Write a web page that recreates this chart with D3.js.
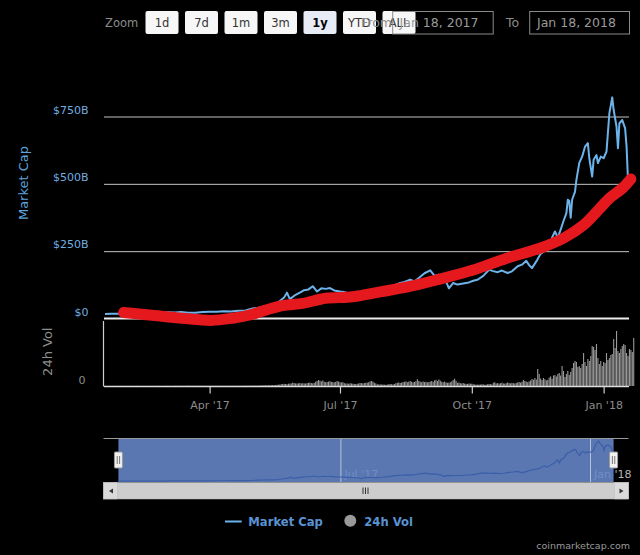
<!DOCTYPE html>
<html><head><meta charset="utf-8">
<script src="https://cdn.jsdelivr.net/npm/d3@7"></script>
<style>body{margin:0;background:#000;}svg{display:block;}text{font-family:"DejaVu Sans",sans-serif;}</style>
</head><body>
<svg id="chart" width="640" height="555"></svg>
<script>
// ---------------- DATA ----------------
const mcDates = ["2017-01-18","2017-01-22","2017-01-27","2017-02-01","2017-02-06","2017-02-11","2017-02-16","2017-02-21","2017-02-26","2017-03-03","2017-03-08","2017-03-12","2017-03-17","2017-03-22","2017-03-27","2017-04-01","2017-04-06","2017-04-11","2017-04-16","2017-04-21","2017-04-26","2017-05-01","2017-05-05","2017-05-09","2017-05-13","2017-05-16","2017-05-20","2017-05-23","2017-05-25","2017-05-27","2017-05-31","2017-06-03","2017-06-06","2017-06-09","2017-06-12","2017-06-15","2017-06-18","2017-06-21","2017-06-24","2017-06-27","2017-07-01","2017-07-04","2017-07-07","2017-07-10","2017-07-13","2017-07-16","2017-07-20","2017-07-23","2017-07-27","2017-08-01","2017-08-05","2017-08-08","2017-08-12","2017-08-15","2017-08-19","2017-08-22","2017-08-25","2017-08-29","2017-09-02","2017-09-05","2017-09-08","2017-09-11","2017-09-13","2017-09-15","2017-09-18","2017-09-21","2017-09-25","2017-09-29","2017-10-02","2017-10-05","2017-10-09","2017-10-13","2017-10-16","2017-10-19","2017-10-22","2017-10-26","2017-10-29","2017-11-02","2017-11-05","2017-11-08","2017-11-10","2017-11-12","2017-11-15","2017-11-18","2017-11-21","2017-11-24","2017-11-26","2017-11-28","2017-11-30","2017-12-02","2017-12-04","2017-12-06","2017-12-07","2017-12-08","2017-12-09","2017-12-10","2017-12-12","2017-12-13","2017-12-15","2017-12-17","2017-12-19","2017-12-21","2017-12-22","2017-12-24","2017-12-25","2017-12-27","2017-12-28","2017-12-30","2018-01-01","2018-01-03","2018-01-05","2018-01-07","2018-01-08","2018-01-10","2018-01-11","2018-01-12","2018-01-14","2018-01-16","2018-01-17","2018-01-18"];
const mcValues = [17,17.5,17.8,18,18.6,18.2,18.9,19.5,20.8,23,22,24.5,21,21.5,24,25,25.5,26.5,26,28.5,30,37,40,45,44,50,65,78,96,72,88,96,105,108,120,100,112,110,113,104,100,98,94,90,85,70,92,90,88,95,108,124,132,136,144,138,150,168,179,158,163,146,138,112,132,126,130,134,140,144,158,181,176,172,178,169,175,194,200,214,198,187,212,240,252,266,300,323,300,330,362,391,441,436,374,441,470,515,578,601,638,651,595,527,589,607,577,601,595,620,762,821,774,712,632,725,737,706,638,515];

// hand-drawn red trend annotation
const trendDates = ["2017-01-31","2017-02-18","2017-03-13","2017-04-02","2017-04-17","2017-04-29","2017-05-10","2017-05-22","2017-06-05","2017-06-21","2017-07-10","2017-07-29","2017-08-18","2017-09-06","2017-10-02","2017-10-25","2017-11-17","2017-12-04","2017-12-18","2017-12-28","2018-01-05","2018-01-14","2018-01-20"];
const trendValues = [22,13,1,-7,1,13,31,48,56,75,81,99,118,143,180,223,260,298,347,401,446,483,518];

// daily 24h volume (billions), 2017-01-18 .. 2018-01-18
const volStart = "2017-01-18";
const volValues = [
0.1,0.1,0.1,0.1,0.1,0.1,0.1,0.1,0.1,0.1,0.1,0.1,0.1,0.1,
0.1,0.1,0.1,0.1,0.1,0.1,0.1,0.1,0.2,0.1,0.1,0.1,0.1,0.1,0.1,0.1,0.1,0.1,0.1,0.1,0.1,0.1,0.2,0.2,0.1,0.1,0.1,0.1,
0.1,0.2,0.2,0.1,0.1,0.1,0.2,0.2,0.2,0.2,0.2,0.2,0.2,0.2,0.2,0.2,0.3,0.2,0.2,0.2,0.2,0.2,0.2,0.2,0.2,0.2,0.2,0.2,0.2,0.2,0.2,0.2,0.2,0.2,0.2,
0.2,0.2,0.2,0.2,0.2,0.2,0.2,0.2,0.2,0.2,0.2,0.2,0.2,0.2,0.2,0.2,0.2,0.2,0.2,0.2,0.3,0.3,0.3,0.3,0.3,0.3,0.4,0.4,0.3,0.4,
0.4,0.5,0.5,0.6,0.7,0.6,0.7,0.8,0.7,0.8,0.9,0.8,1.0,1.2,1.3,1.5,1.8,2.0,2.2,2.0,1.8,2.3,2.4,2.6,3.4,3.0,2.6,2.5,2.7,3.0,2.6,
2.8,2.6,2.5,2.9,3.2,3.4,3.0,2.7,3.1,4.2,5.0,6.0,5.4,4.6,5.6,4.3,3.8,4.0,4.4,4.8,4.1,3.9,3.6,4.2,5.0,4.4,3.8,3.5,3.9,3.0,
2.4,2.6,2.2,2.8,2.5,2.3,2.1,2.0,2.2,2.6,3.0,2.9,2.6,3.0,3.2,3.4,3.8,4.6,5.0,4.4,3.2,2.6,1.8,1.5,1.7,1.4,1.6,1.3,1.2,1.4,1.8,
2.0,1.7,1.6,1.9,2.8,3.2,3.6,3.0,3.4,3.9,4.2,4.6,3.8,4.4,5.0,4.2,3.6,4.0,4.8,6.8,5.2,4.4,3.8,4.6,3.9,4.2,3.6,4.0,4.4,5.0,4.2,
5.6,6.2,5.0,6.6,5.4,4.2,3.8,4.4,3.6,3.2,3.4,3.8,4.6,6.0,7.4,5.2,3.2,3.6,2.8,2.6,3.0,2.4,2.2,2.0,2.6,2.2,2.4,1.8,1.6,1.4,
1.3,1.5,1.4,1.8,1.6,1.2,1.4,1.7,2.0,1.8,1.6,3.2,3.8,2.6,2.9,2.4,2.8,3.4,2.6,2.4,2.8,3.6,3.0,2.6,3.2,2.8,2.5,3.0,3.6,4.0,3.4,
4.2,6.0,5.0,4.4,3.8,4.6,5.5,7.0,6.2,8.0,6.4,17,12,7.5,6.0,8.0,6.8,5.6,6.2,8.4,9.6,7.2,10.5,11,9.5,12,13,10.5,20,15,
9,12,15,11,14,18,23,25,24,19,20,18,22,33,24,20,27,25,30,40,39,36,42,28,22,25,20,24,23,33,26,
28,31,32,47,38,55,35,33,37,40,42,41,33,30,37,36,34,48];

const yTicks = [0, 250, 500, 750];
const yTickLabels = ["$0", "$250B", "$500B", "$750B"];
const xTickDates = ["2017-04-01", "2017-07-01", "2017-10-01", "2018-01-01"];
const xTickLabels = ["Apr '17", "Jul '17", "Oct '17", "Jan '18"];
const navTickDates = ["2017-07-01", "2018-01-01"];
const navTickLabels = ["Jul '17", "Jan '18"];
const zoomButtons = ["1d", "7d", "1m", "3m", "1y", "YTD", "ALL"];
const selectedButton = "1y";
const fromDate = "Jan 18, 2017", toDate = "Jan 18, 2018";
const seriesNames = ["Market Cap", "24h Vol"];

// ---------------- SETUP ----------------
const parse = d3.timeParse("%Y-%m-%d");
const mc = mcDates.map((d, i) => ({date: parse(d), value: mcValues[i]}));
const trend = trendDates.map((d, i) => ({date: parse(d), value: trendValues[i]}));
const v0 = parse(volStart);
const vol = volValues.map((v, i) => ({date: d3.timeDay.offset(v0, i), value: v}));

const svg = d3.select("#chart");
svg.append("rect").attr("width", 640).attr("height", 555).attr("fill", "#000");

const x = d3.scaleTime().domain([parse("2017-01-18"), parse("2018-01-18")]).range([105, 628]);
const y = d3.scaleLinear().domain([0, 750]).range([318.5, 116.5]);
const yv = d3.scaleLinear().domain([0, 64]).range([386, 322]);
const xn = d3.scaleTime().domain([parse("2017-01-07"), parse("2018-01-29")]).range([103.5, 628.5]);
const yn = d3.scaleLinear().domain([0, 840]).range([482, 440]);

const blue = "#6db3ea";

// ---------------- TOP RANGE SELECTOR ----------------
const topG = svg.append("g");
topG.append("text").attr("x", 105).attr("y", 26.5).attr("fill", "#8c8c8c").attr("font-size", 11.5).text("Zoom");
const btn = topG.selectAll("g.btn").data(zoomButtons).join("g")
  .attr("transform", (d, i) => `translate(${145.5 + i * 39.5},11)`);
btn.append("rect").attr("width", 33).attr("height", 23).attr("rx", 2)
  .attr("fill", d => d === selectedButton ? "#e6ebf5" : "#f7f7f7");
btn.append("text").attr("x", 16.5).attr("y", 15.7).attr("text-anchor", "middle")
  .attr("font-size", 11.5).attr("font-weight", d => d === selectedButton ? "bold" : "normal")
  .attr("fill", d => d === selectedButton ? "#000" : "#333").text(d => d);
topG.append("text").attr("x", 392).attr("y", 26.5).attr("text-anchor", "end").attr("fill", "#8c8c8c").attr("font-size", 12.5).text("From");
topG.append("rect").attr("x", 392.7).attr("y", 11.5).attr("width", 100.5).attr("height", 22.5).attr("fill", "none").attr("stroke", "#8a8a8a");
topG.append("text").attr("x", 399.6).attr("y", 27).attr("fill", "#9a9a9a").attr("font-size", 12.5).text(fromDate);
topG.append("text").attr("x", 506).attr("y", 26.5).attr("fill", "#8c8c8c").attr("font-size", 12.5).text("To");
topG.append("rect").attr("x", 529.7).attr("y", 11.5).attr("width", 99.8).attr("height", 22.5).attr("fill", "none").attr("stroke", "#8a8a8a");
topG.append("text").attr("x", 537).attr("y", 27).attr("fill", "#9a9a9a").attr("font-size", 12.5).text(toDate);

// ---------------- MAIN GRID & AXES ----------------
const grid = svg.append("g").attr("transform", "translate(104,0)")
  .call(d3.axisLeft(y).tickValues(yTicks.filter(d => d > 0)).tickSize(-525).tickFormat(""));
grid.select(".domain").remove();
grid.selectAll("line").attr("stroke", "#c4c4c4").attr("stroke-width", 1);

svg.append("g").selectAll("text").data(yTicks).join("text")
  .attr("x", 88.5).attr("y", d => y(d) - 3).attr("text-anchor", "end")
  .attr("fill", "#72aee0").attr("font-size", 11).text((d, i) => yTickLabels[i]);

svg.append("text").attr("transform", "translate(28,183) rotate(-90)").attr("text-anchor", "middle")
  .attr("fill", "#5ea3dc").attr("font-size", 13).text(seriesNames[0]);
svg.append("text").attr("transform", "translate(52,351.7) rotate(-90)").attr("text-anchor", "middle")
  .attr("fill", "#8c8c8c").attr("font-size", 13).text(seriesNames[1]);
svg.append("text").attr("x", 85.5).attr("y", 384).attr("text-anchor", "end")
  .attr("fill", "#8c8c8c").attr("font-size", 11).text("0");

// volume bars
svg.append("g").selectAll("rect").data(vol).join("rect")
  .attr("x", d => x(d.date) - 0.55).attr("width", 1.1)
  .attr("y", d => yv(d.value)).attr("height", d => 386 - yv(d.value))
  .attr("fill", "#9a9a9a");

// volume panel frame
svg.append("line").attr("x1", 103.5).attr("x2", 103.5).attr("y1", 321).attr("y2", 386.5).attr("stroke", "#cfcfcf").attr("stroke-width", 1.2);
const xAxis = svg.append("g").attr("transform", "translate(0,386.5)")
  .call(d3.axisBottom(x).tickValues(xTickDates.map(parse)).tickFormat((d, i) => xTickLabels[i]).tickSize(7).tickPadding(8));
xAxis.select(".domain").attr("stroke", "#dcdcdc").attr("stroke-width", 1.5).attr("d", "M104,0H629");
xAxis.selectAll(".tick line").attr("stroke", "#d0d0d0").attr("stroke-width", 1.2);
xAxis.selectAll(".tick text").attr("fill", "#8c8c8c").attr("font-size", 11).attr("font-family", "DejaVu Sans");

// zero line
svg.append("line").attr("x1", 104).attr("x2", 629).attr("y1", y(0)).attr("y2", y(0)).attr("stroke", "#ececec").attr("stroke-width", 2);

// market cap line
svg.append("path").datum(mc).attr("fill", "none").attr("stroke", blue).attr("stroke-width", 2)
  .attr("stroke-linejoin", "round")
  .attr("d", d3.line().x(d => x(d.date)).y(d => y(d.value)));

// red trend annotation
svg.append("path").datum(trend).attr("fill", "none").attr("stroke", "#e4181d").attr("stroke-width", 11)
  .attr("stroke-linecap", "round").attr("stroke-linejoin", "round")
  .attr("d", d3.line().curve(d3.curveCatmullRom).x(d => x(d.date)).y(d => y(d.value)));

// ---------------- NAVIGATOR ----------------
const nav = svg.append("g");
nav.append("line").attr("x1", 103.5).attr("x2", 628.5).attr("y1", 438.5).attr("y2", 438.5).attr("stroke", "#9a9a9a");
nav.selectAll("text.nl").data(navTickDates).join("text")
  .attr("x", d => xn(parse(d)) + 3.5).attr("y", 478).attr("fill", "#b4b4b4").attr("font-size", 11)
  .text((d, i) => navTickLabels[i]);
const s0 = xn(parse("2017-01-18")), s1 = xn(parse("2018-01-18"));
nav.append("rect").attr("x", s0).attr("y", 439).attr("width", s1 - s0).attr("height", 43)
  .attr("fill", "#6787c9").attr("fill-opacity", 0.88);
nav.selectAll("line.ng").data(navTickDates).join("line")
  .attr("x1", d => xn(parse(d))).attr("x2", d => xn(parse(d))).attr("y1", 439).attr("y2", 482)
  .attr("stroke", "#ffffff").attr("stroke-opacity", 0.55);
nav.append("path").datum(mc).attr("fill", "none").attr("stroke", "#3a5fa8").attr("stroke-width", 1.2)
  .attr("d", d3.line().x(d => xn(d.date)).y(d => yn(d.value)));

// scrollbar
nav.append("rect").attr("x", 103.5).attr("y", 482.5).attr("width", 525).attr("height", 16.5).attr("fill", "#cdcdcd").attr("stroke", "#bdbdbd").attr("stroke-width", 0.5);
nav.append("rect").attr("x", 103.5).attr("y", 482.5).attr("width", 14).attr("height", 16.5).attr("fill", "#dadada").attr("stroke", "#bdbdbd").attr("stroke-width", 0.5);
nav.append("rect").attr("x", 614.5).attr("y", 482.5).attr("width", 14).attr("height", 16.5).attr("fill", "#dadada").attr("stroke", "#bdbdbd").attr("stroke-width", 0.5);
nav.append("path").attr("d", "M109,491L113,488.5L113,493.5Z").attr("fill", "#333");
nav.append("path").attr("d", "M623.5,491L619.5,488.5L619.5,493.5Z").attr("fill", "#333");
[363, 365.5, 368].forEach(gx => nav.append("line").attr("x1", gx).attr("x2", gx).attr("y1", 487.5).attr("y2", 494).attr("stroke", "#333").attr("stroke-width", 1));

// handles
[s0, s1].forEach(hx => {
  const h = nav.append("g").attr("transform", `translate(${hx},460)`);
  h.append("rect").attr("x", -4).attr("y", -8).attr("width", 8).attr("height", 16).attr("rx", 1)
    .attr("fill", "#f2f2f2").attr("stroke", "#999");
  h.append("line").attr("x1", -1.2).attr("x2", -1.2).attr("y1", -4).attr("y2", 4).attr("stroke", "#777");
  h.append("line").attr("x1", 1.2).attr("x2", 1.2).attr("y1", -4).attr("y2", 4).attr("stroke", "#777");
});

// ---------------- LEGEND & CREDIT ----------------
const lg = svg.append("g");
lg.append("line").attr("x1", 225).attr("x2", 241.7).attr("y1", 521.5).attr("y2", 521.5).attr("stroke", blue).attr("stroke-width", 2);
lg.append("text").attr("x", 248.3).attr("y", 525.5).attr("fill", "#5a93d3").attr("font-size", 11.6).attr("font-weight", "bold").text(seriesNames[0]);
lg.append("circle").attr("cx", 350.3).attr("cy", 520.7).attr("r", 6).attr("fill", "#999");
lg.append("text").attr("x", 364.3).attr("y", 525.5).attr("fill", "#5a93d3").attr("font-size", 11.6).attr("font-weight", "bold").text(seriesNames[1]);
svg.append("text").attr("x", 630).attr("y", 548.5).attr("text-anchor", "end").attr("fill", "#9a9a9a").attr("font-size", 9.5).text("coinmarketcap.com");
</script>
</body></html>
